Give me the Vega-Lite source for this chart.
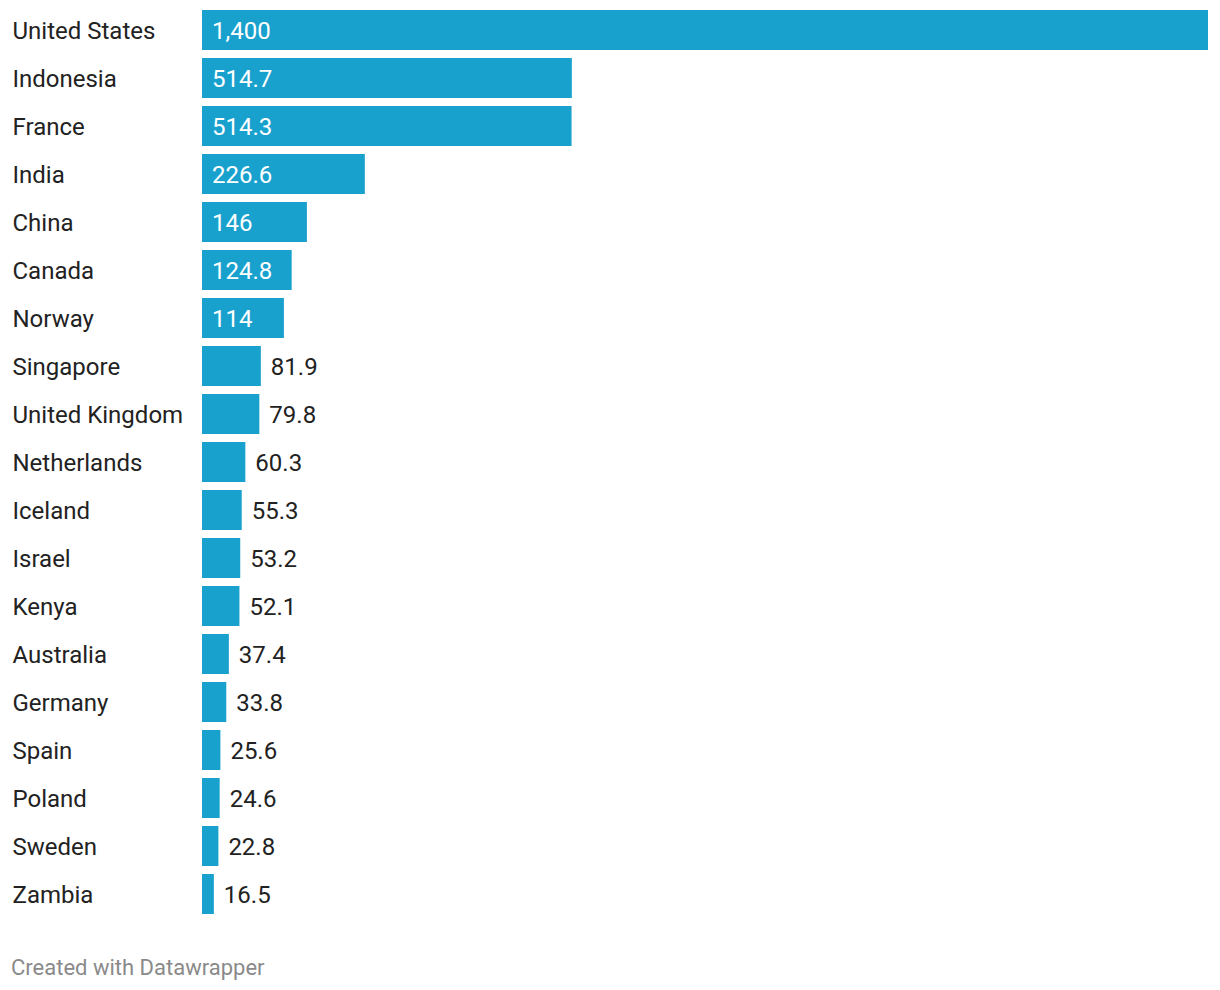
{
  "$schema": "https://vega.github.io/schema/vega-lite/v6.json",
  "width": 1006,
  "height": 912,
  "autosize": {"type": "none"},
  "padding": {"left": 202, "top": 6, "right": 12, "bottom": 72},
  "background": "white",
  "config": {"view": {"stroke": null}, "font": "Roboto"},
  "title": {
    "text": "Created with Datawrapper",
    "orient": "bottom",
    "anchor": "start",
    "frame": "bounds",
    "font": "Roboto",
    "fontSize": 22,
    "fontWeight": "normal",
    "color": "#8a8a8a",
    "offset": 40,
    "dx": -1
  },
  "data": {
    "values": [
      {"country": "United States", "value": 1400},
      {"country": "Indonesia", "value": 514.7},
      {"country": "France", "value": 514.3},
      {"country": "India", "value": 226.6},
      {"country": "China", "value": 146},
      {"country": "Canada", "value": 124.8},
      {"country": "Norway", "value": 114},
      {"country": "Singapore", "value": 81.9},
      {"country": "United Kingdom", "value": 79.8},
      {"country": "Netherlands", "value": 60.3},
      {"country": "Iceland", "value": 55.3},
      {"country": "Israel", "value": 53.2},
      {"country": "Kenya", "value": 52.1},
      {"country": "Australia", "value": 37.4},
      {"country": "Germany", "value": 33.8},
      {"country": "Spain", "value": 25.6},
      {"country": "Poland", "value": 24.6},
      {"country": "Sweden", "value": 22.8},
      {"country": "Zambia", "value": 16.5}
    ]
  },
  "encoding": {
    "y": {
      "field": "country",
      "type": "nominal",
      "sort": null,
      "scale": {"paddingInner": 0.1667, "paddingOuter": 0.0833},
      "axis": {
        "title": null,
        "domain": false,
        "ticks": false,
        "tickSize": 0,
        "labelPadding": 190,
        "labelAlign": "left",
        "labelFont": "Roboto",
        "labelFontSize": 24,
        "labelColor": "#222222",
        "labelLimit": 0,
        "labelOffset": 2
      }
    }
  },
  "layer": [
    {
      "mark": {"type": "bar", "color": "#19a1ce"},
      "encoding": {
        "x": {
          "field": "value",
          "type": "quantitative",
          "scale": {"domain": [0, 1400], "nice": false, "zero": true},
          "axis": null
        }
      }
    },
    {
      "transform": [{"filter": "datum.value >= 100"}],
      "mark": {"type": "text", "align": "left", "baseline": "middle", "dx": 10, "dy": 2, "fontSize": 24, "color": "white", "font": "Roboto"},
      "encoding": {
        "x": {"datum": 0, "type": "quantitative"},
        "text": {"field": "value", "type": "quantitative", "format": ","}
      }
    },
    {
      "transform": [{"filter": "datum.value < 100"}],
      "mark": {"type": "text", "align": "left", "baseline": "middle", "dx": 10, "dy": 2, "fontSize": 24, "color": "#222222", "font": "Roboto"},
      "encoding": {
        "x": {"field": "value", "type": "quantitative"},
        "text": {"field": "value", "type": "quantitative", "format": ","}
      }
    }
  ]
}
